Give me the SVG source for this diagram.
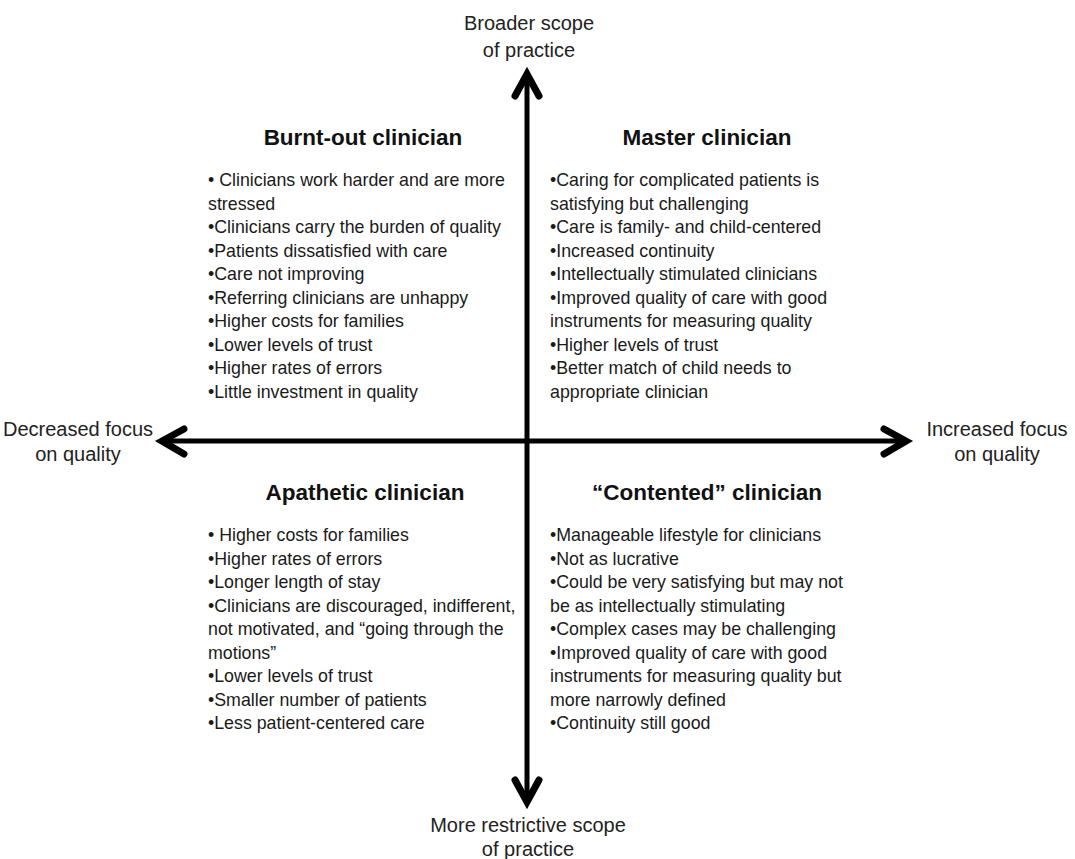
<svg xmlns="http://www.w3.org/2000/svg" width="1075" height="859" viewBox="0 0 1075 859">
<style>
.ax{stroke:#000;stroke-width:5;fill:none}
.hd{stroke:#000;stroke-width:7;fill:none;stroke-linejoin:miter;stroke-linecap:round}
.lab{font-family:"Liberation Sans",Arial,sans-serif;font-size:20px;fill:#222;text-anchor:middle}
.ttl{font-family:"Liberation Sans",Arial,sans-serif;font-size:22.5px;font-weight:bold;fill:#111;text-anchor:middle}
.bd{font-family:"Liberation Sans",Arial,sans-serif;font-size:17.8px;fill:#1a1a1a}
</style>
<rect width="1075" height="859" fill="#fff"/>
<g id="connectors">
<line class="ax" x1="527" y1="74" x2="527" y2="801"/>
<polyline class="hd" points="515,96 527,74 539,96"/>
<polyline class="hd" points="515,780 527,802 539,780"/>
<line class="ax" x1="163" y1="441" x2="905" y2="441"/>
<polyline class="hd" points="184,429 162,441 184,454"/>
<polyline class="hd" points="884,429 906,441 884,454"/>
</g>
<g id="axis-top"><text class="lab" x="529" y="30">Broader scope</text><text class="lab" x="529" y="57">of practice</text></g>
<g id="axis-bottom"><text class="lab" x="528" y="832">More restrictive scope</text><text class="lab" x="528" y="856">of practice</text></g>
<g id="axis-left"><text class="lab" x="78" y="436">Decreased focus</text><text class="lab" x="78" y="461">on quality</text></g>
<g id="axis-right"><text class="lab" x="997" y="436">Increased focus</text><text class="lab" x="997" y="461">on quality</text></g>
<g id="burnt-out">
<text class="ttl" x="363" y="145">Burnt-out clinician</text>
<text class="bd" x="208" y="186">• Clinicians work harder and are more</text>
<text class="bd" x="208" y="209.5">stressed</text>
<text class="bd" x="208" y="233">•Clinicians carry the burden of quality</text>
<text class="bd" x="208" y="256.5">•Patients dissatisfied with care</text>
<text class="bd" x="208" y="280">•Care not improving</text>
<text class="bd" x="208" y="303.5">•Referring clinicians are unhappy</text>
<text class="bd" x="208" y="327">•Higher costs for families</text>
<text class="bd" x="208" y="350.5">•Lower levels of trust</text>
<text class="bd" x="208" y="374">•Higher rates of errors</text>
<text class="bd" x="208" y="397.5">•Little investment in quality</text>
</g>
<g id="master">
<text class="ttl" x="707" y="145">Master clinician</text>
<text class="bd" x="550" y="186">•Caring for complicated patients is</text>
<text class="bd" x="550" y="209.5">satisfying but challenging</text>
<text class="bd" x="550" y="233">•Care is family- and child-centered</text>
<text class="bd" x="550" y="256.5">•Increased continuity</text>
<text class="bd" x="550" y="280">•Intellectually stimulated clinicians</text>
<text class="bd" x="550" y="303.5">•Improved quality of care with good</text>
<text class="bd" x="550" y="327">instruments for measuring quality</text>
<text class="bd" x="550" y="350.5">•Higher levels of trust</text>
<text class="bd" x="550" y="374">•Better match of child needs to</text>
<text class="bd" x="550" y="397.5">appropriate clinician</text>
</g>
<g id="apathetic">
<text class="ttl" x="365" y="500">Apathetic clinician</text>
<text class="bd" x="208" y="541">• Higher costs for families</text>
<text class="bd" x="208" y="564.5">•Higher rates of errors</text>
<text class="bd" x="208" y="588">•Longer length of stay</text>
<text class="bd" x="208" y="611.5">•Clinicians are discouraged, indifferent,</text>
<text class="bd" x="208" y="635">not motivated, and “going through the</text>
<text class="bd" x="208" y="658.5">motions”</text>
<text class="bd" x="208" y="682">•Lower levels of trust</text>
<text class="bd" x="208" y="705.5">•Smaller number of patients</text>
<text class="bd" x="208" y="729">•Less patient-centered care</text>
</g>
<g id="contented">
<text class="ttl" x="707" y="500">“Contented” clinician</text>
<text class="bd" x="550" y="541">•Manageable lifestyle for clinicians</text>
<text class="bd" x="550" y="564.5">•Not as lucrative</text>
<text class="bd" x="550" y="588">•Could be very satisfying but may not</text>
<text class="bd" x="550" y="611.5">be as intellectually stimulating</text>
<text class="bd" x="550" y="635">•Complex cases may be challenging</text>
<text class="bd" x="550" y="658.5">•Improved quality of care with good</text>
<text class="bd" x="550" y="682">instruments for measuring quality but</text>
<text class="bd" x="550" y="705.5">more narrowly defined</text>
<text class="bd" x="550" y="729">•Continuity still good</text>
</g>
</svg>
